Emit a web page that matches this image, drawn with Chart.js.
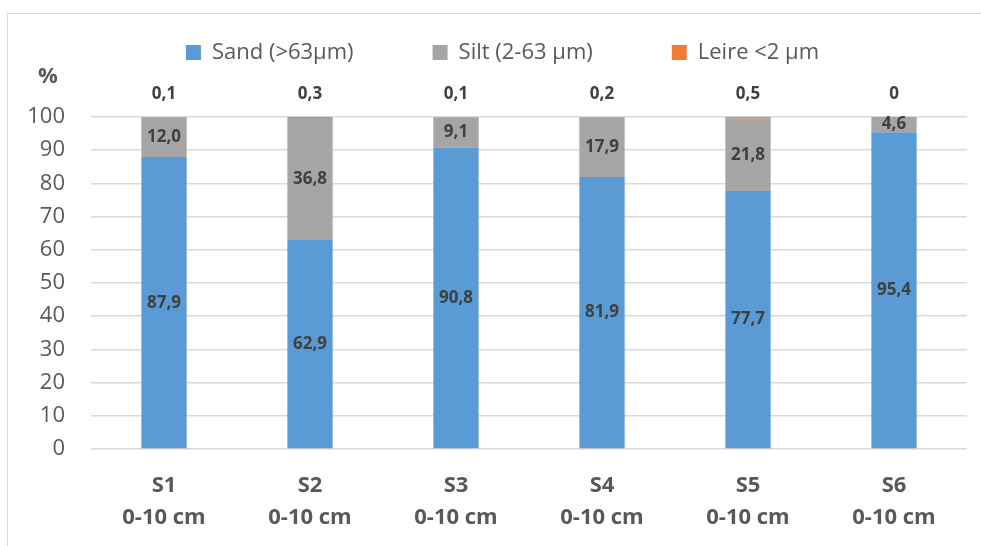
<!DOCTYPE html>
<html>
<head>
<meta charset="utf-8">
<script src="https://cdn.jsdelivr.net/npm/chart.js@4.4.0/dist/chart.umd.min.js"></script>
<style>
  body { margin: 0; background: #fff; }
  #wrap { position: relative; width: 981px; height: 546px; }
  #frame { position: absolute; left: 7px; top: 13px; right: 0; bottom: 0;
           border-top: 1px solid #d9d9d9; border-left: 1px solid #d9d9d9; }
  canvas { position: absolute; left: 0; top: 0; }
</style>
</head>
<body>
<div id="wrap">
  <div id="frame"></div>
  <canvas id="chart" width="981" height="546"></canvas>
</div>
<script>
const sites = ["S1", "S2", "S3", "S4", "S5", "S6"];
const depth = "0-10 cm";
const sand = [87.9, 62.9, 90.8, 81.9, 77.7, 95.4];
const silt = [12.0, 36.8, 9.1, 17.9, 21.8, 4.6];
const leire = [0.1, 0.3, 0.1, 0.2, 0.5, 0];
const seriesNames = ["Sand (>63µm)", "Silt (2-63 µm)", "Leire <2 µm"];

const FONT = "'Open Sans', sans-serif";

// value labels: centred in sand/silt, above the bar for leire
const barLabels = {
  id: "barLabels",
  afterLayout(chart) {
    // let the y tick labels use the space left of the padding ("100" was clipped)
    chart.scales.y.left = 0;
  },
  afterDatasetsDraw(chart) {
    const ctx = chart.ctx;
    ctx.save();
    ctx.font = "bold 17px " + FONT;
    ctx.fillStyle = "#404040";
    ctx.textAlign = "center";
    ctx.textBaseline = "middle";
    chart.data.datasets.forEach((ds, i) => {
      const meta = chart.getDatasetMeta(i);
      meta.data.forEach((bar, j) => {
        const v = ds.data[j];
        let txt = v.toFixed(1).replace(".", ",");
        if (i === 2) {
          if (v === 0) txt = "0";
          ctx.fillText(txt, bar.x, chart.scales.y.getPixelForValue(100) - 23);
        } else {
          ctx.fillText(txt, bar.x, (bar.y + bar.base) / 2);
        }
      });
    });
    ctx.restore();
  }
};

new Chart(document.getElementById("chart"), {
  type: "bar",
  data: {
    labels: sites.map(s => [s, depth]),
    datasets: [
      { label: seriesNames[0], data: sand, backgroundColor: "#5b9bd5" },
      { label: seriesNames[1], data: silt, backgroundColor: "#a5a5a5" },
      { label: seriesNames[2], data: leire, backgroundColor: "#ed7d31" }
    ]
  },
  options: {
    responsive: false,
    animation: false,
    layout: { padding: { top: -37.5, right: 14, left: 38, bottom: 0 } },
    datasets: { bar: { barPercentage: 0.31, categoryPercentage: 1 } },
    plugins: {
      legend: {
        position: "top",
        labels: {
          font: { family: FONT, size: 22 },
          color: "#595959",
          boxWidth: 15,
          boxHeight: 15,
          padding: 79
        }
      },
      title: {
        display: true,
        text: "%",
        align: "start",
        weight: 500,
        color: "#595959",
        font: { family: FONT, size: 22, weight: "bold", lineHeight: 1.2 },
        padding: { top: -10, bottom: 27 }
      },
      tooltip: { enabled: false }
    },
    scales: {
      x: {
        stacked: true,
        grid: { display: false },
        border: { display: false },
        ticks: {
          font: { family: FONT, size: 22, weight: "bold", lineHeight: 1.45 },
          color: "#595959",
          padding: 13,
          maxRotation: 0
        },
        afterFit(s) { s.height = 97; }
      },
      y: {
        stacked: true,
        min: 0,
        max: 100,
        ticks: {
          stepSize: 10,
          font: { family: FONT, size: 22 },
          color: "#595959",
          padding: 26
        },
        grid: { color: "#d9d9d9", lineWidth: 1.5, drawTicks: false },
        border: { display: false },
        afterFit(s) { s.width = 53; }
      }
    }
  },
  plugins: [barLabels]
});
</script>
</body>
</html>
